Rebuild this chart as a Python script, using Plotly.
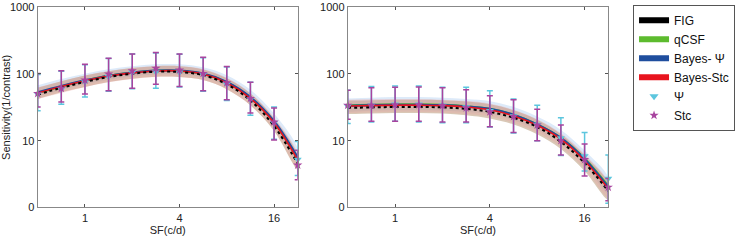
import plotly.graph_objects as go
import math

# ---------------- data ----------------
freq = [0.5, 0.707, 1, 1.414, 2, 2.828, 4, 5.657, 8, 11.31, 16, 22.63]
x_ticks = [1, 4, 16]
x_tick_text = ["1", "4", "16"]
y_ticks = [1, 10, 100, 1000]
y_tick_text = ["0", "10", "100", "1000"]

# left panel curves
fig_L = [49, 62, 76, 90, 101, 108, 107, 96, 70, 40, 16.5, 4.5]
qcsf_L = [52, 65, 80, 94, 105, 112, 111, 100, 75, 44, 19, 5.3]
bpsi_L = [53, 66, 80, 94, 105, 112, 112, 101, 76, 45, 19.5, 5.6]
bstc_L = [52, 65, 79, 93, 104, 111, 111, 100, 74, 43, 18.5, 5.1]
band_psi_hi_L = [68, 84, 101, 118, 131, 140, 140, 126, 96, 58, 25.5, 7.6]
band_psi_lo_L = [46, 57, 70, 82, 92, 98, 98, 89, 66, 39, 16.5, 4.7]
band_stc_hi_L = [63, 78, 95, 111, 124, 132, 132, 119, 88, 52, 22.5, 6.4]
band_stc_lo_L = [42, 52, 64, 75, 84, 90, 90, 81, 59, 34, 14.5, 3.8]
band_fig_hi_L = [62, 78, 95, 110, 123, 131, 131, 117, 86, 51, 21.5, 6.0]
band_fig_lo_L = [42, 53, 64, 76, 85, 91, 90, 81, 59, 34, 14, 3.7]
# left panel estimates
psi_L = [50, 59, 76, 92, 105, 107, 106, 98, 70, 42, 18.5, 5.2]
psi_top_L = [98, 110, 138, 170, 200, 207, 198, 175, 127, 75, 32, 9.7]
psi_bot_L = [28, 35, 45, 55, 60, 61, 64, 55, 40, 24, 10.5, 3.0]
stc_L = [51, 61, 81, 100, 112, 122, 115, 102, 74, 43, 19, 4.3]
stc_top_L = [102, 112, 140, 172, 200, 209, 200, 178, 129, 75, 31, 7.2]
stc_bot_L = [32, 38, 50, 56, 61, 70, 65, 56, 41, 26, 10.2, 2.6]

# right panel curves
fig_R = [31, 31.5, 32, 32, 31.5, 30, 27, 22, 16, 9.6, 4.6, 1.75]
qcsf_R = [34, 34.5, 35, 35, 34.5, 33, 30, 24.5, 17.5, 11, 5.4, 2.1]
bpsi_R = [33, 34, 34.5, 34.5, 34, 32.5, 30, 24.5, 17.5, 11, 5.3, 2.0]
bstc_R = [33, 33.5, 34, 34, 33.5, 32, 29, 23.5, 17, 10.5, 5.0, 1.9]
band_psi_hi_R = [43, 44, 45, 45, 44, 42, 39, 32, 23, 14.5, 7.1, 2.8]
band_psi_lo_R = [27, 28, 28.5, 28.5, 28, 27, 25, 20, 14.5, 9, 4.3, 1.6]
band_stc_hi_R = [41, 42, 42, 42, 41, 39.5, 36, 29, 21, 13, 6.3, 2.4]
band_stc_lo_R = [26, 26.5, 27, 27, 26.5, 25, 23, 18.5, 13.2, 8.1, 3.8, 1.4]
band_fig_hi_R = [40, 40.5, 41, 41, 40.5, 38.5, 35, 28.5, 20.5, 12.5, 6.0, 2.3]
band_fig_lo_R = [25, 25.5, 26, 26, 25.5, 24, 21.5, 17.5, 12.5, 7.5, 3.5, 1.3]
# right panel estimates
psi_R = [33, 34, 35, 35, 34, 32, 28, 23.5, 17.5, 11, 5.9, 2.7]
psi_top_R = [57, 65, 66, 66, 63, 63, 56, 42, 34, 22, 13.2, 6.1]
psi_bot_R = [18, 19, 19.5, 19, 18.5, 18.5, 16, 13, 10, 6.0, 3.5, 1.15]
stc_R = [34, 34, 34.5, 34.5, 33.5, 31, 27, 23, 17.2, 10, 5.2, 2.0]
stc_top_R = [57, 62, 63, 64, 62, 58, 47, 41, 29.5, 17.2, 8.9, 2.7]
stc_bot_R = [21, 19.5, 19.5, 19.5, 19, 19, 16.2, 13.2, 10, 6.1, 2.95, 1.25]

legend_names = ["FIG", "qCSF", "Bayes- \u03a8", "Bayes-Stc"]

# ---------------- styles ----------------
C_FIG = "#000000"
C_QCSF = "#5DBB2E"
C_BPSI = "#1F4E9E"
C_BSTC = "#E8141E"
C_PSI = "#5CC6DE"
C_STC = "#A8449F"
FONT = "Liberation Sans, Arial, sans-serif"

fig = go.Figure()


def add_panel(xa, ya, curves, bands, psi, psi_top, psi_bot, stc, stc_top, stc_bot):
    band_cols = ["rgba(150,190,235,0.32)", "rgba(180,145,110,0.50)", "rgba(235,160,160,0.30)"]
    for (hi, lo), col in zip(bands, band_cols):
        fig.add_trace(go.Scatter(
            x=freq + freq[::-1], y=hi + lo[::-1], fill="toself", fillcolor=col,
            mode="none", line=dict(shape="spline"), showlegend=False,
            hoverinfo="skip", xaxis=xa, yaxis=ya))
    fc, qc, bp, bs = curves
    fig.add_trace(go.Scatter(x=freq, y=qc, mode="lines",
                             line=dict(color=C_QCSF, width=2, shape="spline"),
                             showlegend=False, xaxis=xa, yaxis=ya))
    fig.add_trace(go.Scatter(x=freq, y=bp, mode="lines",
                             line=dict(color=C_BPSI, width=2.2, shape="spline"),
                             showlegend=False, xaxis=xa, yaxis=ya))
    fig.add_trace(go.Scatter(x=freq, y=bs, mode="lines",
                             line=dict(color=C_BSTC, width=1.6, shape="spline"),
                             showlegend=False, xaxis=xa, yaxis=ya))
    fig.add_trace(go.Scatter(x=freq, y=fc, mode="lines",
                             line=dict(color=C_FIG, width=2, dash="dot", shape="spline"),
                             showlegend=False, xaxis=xa, yaxis=ya))
    fig.add_trace(go.Scatter(
        x=freq, y=psi, mode="markers",
        marker=dict(symbol="triangle-down", size=7, color=C_PSI),
        error_y=dict(type="data", symmetric=False,
                     array=[t - v for t, v in zip(psi_top, psi)],
                     arrayminus=[v - b for v, b in zip(psi, psi_bot)],
                     color=C_PSI, thickness=1.5, width=3),
        cliponaxis=False, showlegend=False, xaxis=xa, yaxis=ya))
    fig.add_trace(go.Scatter(
        x=freq, y=stc, mode="markers",
        marker=dict(symbol="star", size=7, color=C_STC),
        error_y=dict(type="data", symmetric=False,
                     array=[t - v for t, v in zip(stc_top, stc)],
                     arrayminus=[v - b for v, b in zip(stc, stc_bot)],
                     color=C_STC, thickness=1.5, width=3),
        cliponaxis=False, showlegend=False, xaxis=xa, yaxis=ya))


add_panel("x", "y", (fig_L, qcsf_L, bpsi_L, bstc_L),
          [(band_psi_hi_L, band_psi_lo_L), (band_fig_hi_L, band_fig_lo_L), (band_stc_hi_L, band_stc_lo_L)],
          psi_L, psi_top_L, psi_bot_L, stc_L, stc_top_L, stc_bot_L)
add_panel("x2", "y2", (fig_R, qcsf_R, bpsi_R, bstc_R),
          [(band_psi_hi_R, band_psi_lo_R), (band_fig_hi_R, band_fig_lo_R), (band_stc_hi_R, band_stc_lo_R)],
          psi_R, psi_top_R, psi_bot_R, stc_R, stc_top_R, stc_bot_R)

# legend entries
for name, col in zip(legend_names, [C_FIG, C_QCSF, C_BPSI, C_BSTC]):
    fig.add_trace(go.Scatter(x=[None], y=[None], mode="none", fill="toself",
                             fillcolor=col, name=name, xaxis="x", yaxis="y"))
fig.add_trace(go.Scatter(x=[None], y=[None], mode="markers", name="\u03a8",
                         marker=dict(symbol="triangle-down", size=8, color=C_PSI)))
fig.add_trace(go.Scatter(x=[None], y=[None], mode="markers", name="Stc",
                         marker=dict(symbol="star", size=7, color=C_STC)))

xr = [math.log10(min(freq)), math.log10(max(freq))]
axis_common = dict(showline=True, mirror="ticks", linecolor="#888888", linewidth=1,
                   ticks="inside", ticklen=3, tickcolor="#555555", showgrid=False,
                   zeroline=False, automargin=False, tickfont=dict(size=11, color="#222"))
xcommon = dict(type="log", range=xr, tickvals=x_ticks, ticktext=x_tick_text, **axis_common)
ycommon = dict(type="log", range=[0, 3], tickvals=y_ticks, ticktext=y_tick_text, **axis_common)

fig.update_layout(
    width=743, height=241,
    margin=dict(l=0, r=0, t=0, b=0, autoexpand=False),
    paper_bgcolor="white", plot_bgcolor="white",
    font=dict(family=FONT, size=11, color="#222"),
    xaxis=dict(domain=[0.0507, 0.4007], anchor="y",
               title=dict(text="SF(c/d)", standoff=2, font=dict(size=11)), **xcommon),
    yaxis=dict(domain=[0.1398, 0.9697], anchor="x",
               title=dict(text="Sensitivity(1/contrast)", standoff=4, font=dict(size=11)), **ycommon),
    xaxis2=dict(domain=[0.468, 0.8187], anchor="y2",
                title=dict(text="SF(c/d)", standoff=2, font=dict(size=11)), **xcommon),
    yaxis2=dict(domain=[0.1398, 0.9697], anchor="x2", **ycommon),
    legend=dict(x=0.852, y=0.98, xanchor="left", yanchor="top",
                bordercolor="#555555", borderwidth=1, bgcolor="white",
                font=dict(size=12, color="#111"), tracegroupgap=0),
    showlegend=True,
)

fig.write_html("out.html", config={"displayModeBar": False},
               post_script="document.body.style.margin='0';")
